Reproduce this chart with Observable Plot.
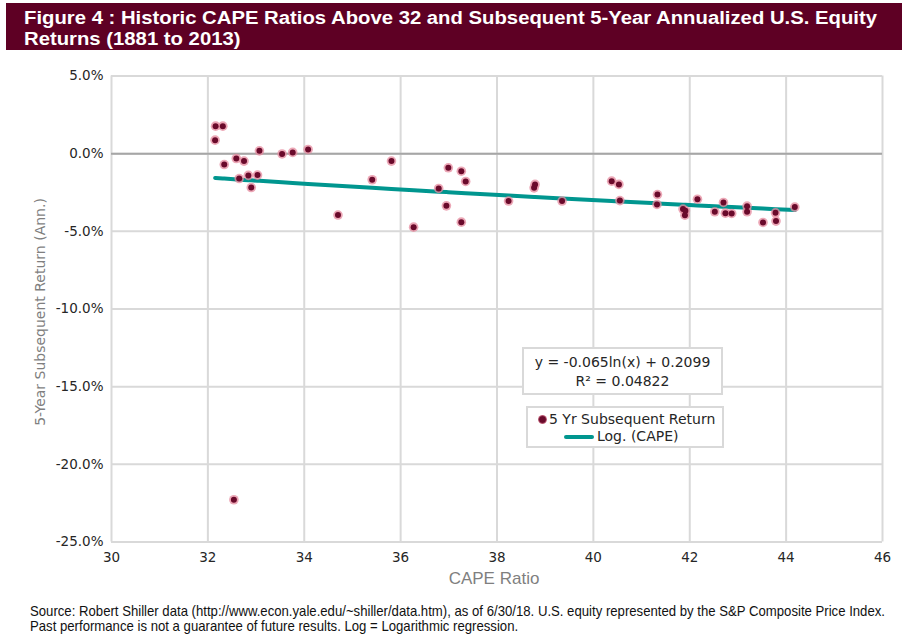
<!DOCTYPE html>
<html>
<head>
<meta charset="utf-8">
<script src="https://cdn.jsdelivr.net/npm/d3@7"></script>
<script src="https://cdn.jsdelivr.net/npm/@observablehq/plot@0.6"></script>
<style>
  html, body { margin: 0; padding: 0; background: #fff; }
  #wrap { position: relative; width: 908px; height: 644px; overflow: hidden; }
  #title {
    position: absolute; left: 6px; top: 3px; width: 896px; height: 47px;
    background: #5e0024; color: #fff;
    font-family: "Liberation Sans", Arial, sans-serif;
    font-weight: bold; font-size: 18px; line-height: 21px;
    padding: 4.5px 0 0 18px; box-sizing: border-box; overflow: hidden;
  }
  .ln { width: max-content; white-space: nowrap; transform-origin: 0 50%; }
  #chart { position: absolute; left: 0; top: 55px; }
  .box {
    position: absolute; background: #fff; border: 2px solid #d9d9d9; box-sizing: border-box;
    font-family: "DejaVu Sans", sans-serif; font-size: 14px; color: #262626;
  }
  #eq { left: 522px; top: 347px; width: 201px; height: 48px; text-align: center; line-height: 19px; padding-top: 4px; }
  #leg { left: 526px; top: 406px; width: 198px; height: 42px; }
  #leg .row1 { position: absolute; left: 21px; top: 2px; line-height: 18px; white-space: nowrap; }
  #leg .row2 { position: absolute; left: 69px; top: 19px; line-height: 18px; white-space: nowrap; }
  #leg .dot { position: absolute; left: 10px; top: 7px; width: 9px; height: 9px; border-radius: 50%;
    background: radial-gradient(circle, #6a0a2b 0 45%, #e58a9e 75%, rgba(229,138,158,0.3) 100%); }
  #leg .line { position: absolute; left: 36px; top: 27px; width: 30px; height: 4px; border-radius: 2px; background: #00968f; }
  #foot {
    position: absolute; left: 30px; top: 604px;
    font-family: "Liberation Sans", Arial, sans-serif;
    font-size: 14.5px; line-height: 15px; color: #111;
  }
</style>
</head>
<body>
<div id="wrap">
  <div id="title"><div class="ln">Figure 4 : Historic CAPE Ratios Above 32 and Subsequent 5-Year Annualized U.S. Equity</div><div class="ln">Returns (1881 to 2013)</div></div>
  <div id="chart"></div>
  <div id="eq" class="box">y = -0.065ln(x) + 0.2099<br>R² = 0.04822</div>
  <div id="leg" class="box">
    <div class="dot"></div><div class="row1">5 Yr Subsequent Return</div>
    <div class="line"></div><div class="row2">Log. (CAPE)</div>
  </div>
  <div id="foot"><div class="ln">Source: Robert Shiller data (http://www.econ.yale.edu/~shiller/data.htm), as of 6/30/18. U.S. equity represented by the S&amp;P Composite Price Index.</div><div class="ln">Past performance is not a guarantee of future results. Log = Logarithmic regression.</div></div>
</div>
<script>
// CAPE ratio (x) and subsequent 5-year annualized return in % (y)
const cape = [32.16, 32.31, 32.15, 32.34, 32.59, 32.75, 33.07, 32.65, 32.84, 33.03,
              32.90, 33.54, 33.76, 34.08, 34.70, 35.41, 35.81, 32.54, 36.27, 36.79,
              36.99, 37.26, 37.35, 36.95, 37.26, 38.24, 38.79, 38.77, 39.35, 40.38,
              40.53, 40.55, 41.33, 41.32, 41.86, 41.91, 41.90, 42.16, 42.52, 42.70,
              42.74, 42.87, 43.19, 43.19, 43.52, 43.78, 43.79, 44.18];
const ret  = [1.77, 1.77, 0.87, -0.70, -0.31, -0.48, 0.18, -1.60, -1.40, -1.38,
              -2.18, -0.02, 0.08, 0.27, -3.95, -1.68, -0.48, -22.28, -4.73, -2.24,
              -0.91, -1.13, -1.79, -3.36, -4.41, -3.05, -1.98, -2.20, -3.05, -1.77,
              -1.98, -3.02, -2.63, -3.27, -3.57, -3.68, -3.96, -2.93, -3.74, -3.14,
              -3.83, -3.85, -3.38, -3.74, -4.43, -3.81, -4.34, -3.44];
// Logarithmic trendline as stated on the chart: y = a ln(x) + b
const trendA = -0.065, trendB = 0.2099;
const xTicks = [30, 32, 34, 36, 38, 40, 42, 44, 46];
const yTicks = [5, 0, -5, -10, -15, -20, -25];

const points = cape.map((c, i) => ({cape: c, ret: ret[i]}));
const trend = [...cape].sort((a, b) => a - b).map(c => ({cape: c, ret: (trendA * Math.log(c) + trendB) * 100}));

const chart = Plot.plot({
  width: 908,
  height: 540,
  marginTop: 20.5,
  marginLeft: 111,
  marginRight: 26,
  marginBottom: 53.5,
  style: {fontFamily: "DejaVu Sans, sans-serif", fontSize: "13.5px", color: "#262626", background: "transparent"},
  x: {domain: [30, 46]},
  y: {domain: [-25, 5]},
  marks: [
    Plot.gridX(xTicks, {stroke: "#d9d9d9", strokeOpacity: 1, strokeWidth: 2}),
    Plot.gridY(yTicks, {stroke: "#d9d9d9", strokeOpacity: 1, strokeWidth: 2}),
    Plot.ruleY([0], {stroke: "#a6a6a6", strokeWidth: 2}),
    Plot.axisX(xTicks, {tickSize: 0, tickPadding: 10, tickFormat: d => String(d), label: null}),
    Plot.axisY(yTicks, {tickSize: 0, tickPadding: 8, tickFormat: d => d.toFixed(1) + "%", label: null}),
    Plot.line(trend, {x: "cape", y: "ret", stroke: "#00968f", strokeWidth: 4}),
    Plot.dot(points, {x: "cape", y: "ret", r: 4.8, fill: "#e58a9e", fillOpacity: 0.75}),
    Plot.dot(points, {x: "cape", y: "ret", r: 3, fill: "#6a0a2b"}),
    Plot.text(["CAPE Ratio"], {frameAnchor: "bottom", dy: 42, dx: -3, text: d => d, ariaLabel: "x-title",
      fontFamily: "Liberation Sans, Arial, sans-serif", fontSize: 17, fill: "#7f7f7f"}),
    Plot.text(["5-Year Subsequent Return (Ann.)"], {frameAnchor: "left", dx: -71, dy: 3, rotate: -90, textAnchor: "middle", text: d => d,
      fontFamily: "DejaVu Sans, sans-serif", fontSize: 14, fill: "#7f7f7f"})
  ]
});
document.getElementById("chart").appendChild(chart);

// Condense the x-axis title to the reference's narrow width
d3.select(chart).select('g[aria-label="x-title"] text')
  .attr("textLength", 72).attr("lengthAdjust", "spacingAndGlyphs");

// Horizontally condense multi-line blocks (narrow typeface look)
function fitLines(id, target) {
  const lines = document.querySelectorAll("#" + id + " .ln");
  const w = lines[0].getBoundingClientRect().width;
  const s = target / w;
  lines.forEach(l => { l.style.transform = "scaleX(" + s + ")"; });
}
fitLines("title", 853);
fitLines("foot", 855);
</script>
</body>
</html>
